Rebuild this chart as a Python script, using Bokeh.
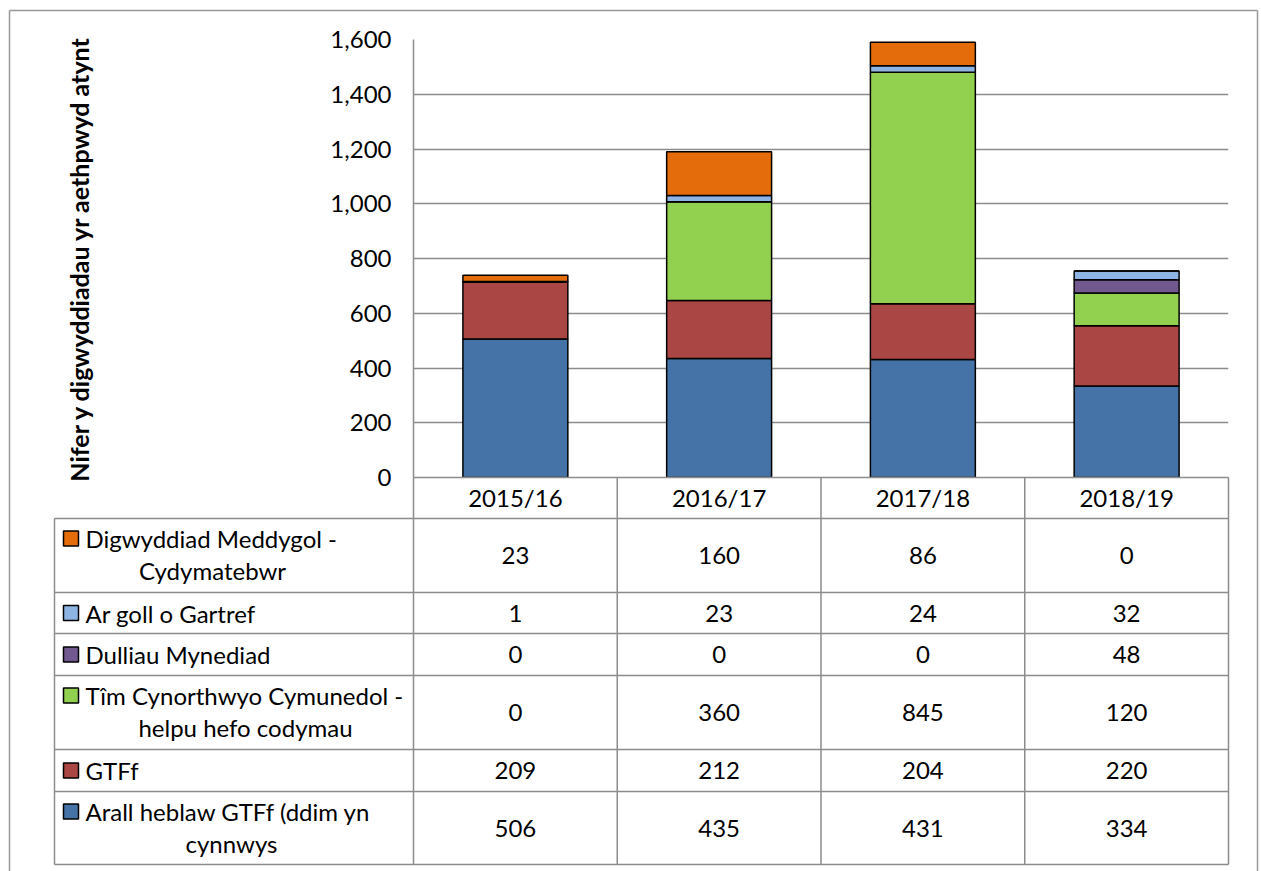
from bokeh.plotting import figure
from bokeh.models import Range1d, FactorRange, FixedTicker, NumeralTickFormatter, ColumnDataSource
from bokeh.core.properties import value
from bokeh.embed import file_html
from bokeh.resources import INLINE

# ---------------- data ----------------
years = ["2015/16", "2016/17", "2017/18", "2018/19"]
arall = [506, 435, 431, 334]
gtff = [209, 212, 204, 220]
tim = [0, 360, 845, 120]
dulliau = [0, 0, 0, 48]
argoll = [1, 23, 24, 32]
digwyddiad = [23, 160, 86, 0]

y_ticks = [0, 200, 400, 600, 800, 1000, 1200, 1400, 1600]
y_title = "Nifer y digwyddiadau yr aethpwyd atynt"

# stacking order (bottom to top)
stack_keys = ["arall", "gtff", "tim", "dulliau", "argoll", "digwyddiad"]
stack_vals = [arall, gtff, tim, dulliau, argoll, digwyddiad]
colors = ["#4572A7", "#AA4643", "#92D050", "#71588F", "#8EB4E3", "#E46C0A"]

# table rows (top to bottom)
row_keys = ["digwyddiad", "argoll", "dulliau", "tim", "gtff", "arall"]
row_labels = [
    ["Digwyddiad Meddygol -", "Cydymatebwr"],
    ["Ar goll o Gartref"],
    ["Dulliau Mynediad"],
    ["Tîm Cynorthwyo Cymunedol -", "helpu hefo codymau"],
    ["GTFf"],
    ["Arall heblaw GTFf (ddim yn", "cynnwys"],
]

# ---------------- layout (page pixels) ----------------
W, H = 1261, 871
FRAME_L = 413.0
CAT_W = 203.75
FRAME_T = 39
FRAME_H = 438
Y0 = FRAME_T + FRAME_H
K = 1600.0 / FRAME_H


def xd(wx):
    return (wx - FRAME_L) / CAT_W


def yd(wy):
    return (Y0 - wy) * K


FONT = "Lato"
GRID = "#8c8c8c"
FS = "24px"

p = figure(width=W, height=H, output_backend="svg", toolbar_location=None,
           x_range=FactorRange(*years), y_range=Range1d(0, 1600),
           min_border_left=int(FRAME_L), min_border_right=int(W - FRAME_L - 4 * CAT_W),
           min_border_top=FRAME_T, min_border_bottom=H - FRAME_T - FRAME_H)
p.outline_line_color = None
p.background_fill_color = "white"
p.border_fill_color = "white"

src = ColumnDataSource(dict(years=years, **{k: v for k, v in zip(stack_keys, stack_vals)}))
p.vbar_stack(stack_keys, x="years", width=0.515, source=src, fill_color=colors,
             line_color="black", line_width=1.5)

# y axis
p.yaxis.ticker = FixedTicker(ticks=y_ticks)
p.yaxis.formatter = NumeralTickFormatter(format="0,0")
p.yaxis.major_tick_out = 0
p.yaxis.major_tick_in = 0
p.yaxis.minor_tick_out = 0
p.yaxis.minor_tick_in = 0
p.yaxis.axis_line_color = GRID
p.yaxis.axis_line_width = 1.5
p.yaxis.major_label_text_font = FONT
p.yaxis.major_label_text_font_size = FS
p.yaxis.major_label_text_color = "black"
p.yaxis.major_label_standoff = 22
p.yaxis.axis_label = y_title
p.yaxis.axis_label_text_font = FONT
p.yaxis.axis_label_text_font_style = "bold"
p.yaxis.axis_label_text_font_size = "25px"
p.yaxis.axis_label_text_color = "black"
p.yaxis.axis_label_standoff = 233

# x axis = table header
p.xaxis.major_tick_out = 0
p.xaxis.major_tick_in = 0
p.xaxis.axis_line_color = GRID
p.xaxis.axis_line_width = 1.5
p.xaxis.major_label_text_font = FONT
p.xaxis.major_label_text_font_size = FS
p.xaxis.major_label_text_color = "black"
p.xaxis.major_label_standoff = 5

p.xgrid.grid_line_color = None
p.ygrid.ticker = FixedTicker(ticks=y_ticks)
p.ygrid.grid_line_color = GRID
p.ygrid.grid_line_width = 1.5

# ---------------- data table ----------------
header_h = 41
row_h = [74, 41, 42, 74, 42, 73]
tops = []
t = Y0 + header_h
for h in row_h:
    tops.append(t)
    t += h
bottom = t

LEFT = 54.0
col_x = [FRAME_L + i * CAT_W for i in range(5)]

sx0, sy0, sx1, sy1 = [], [], [], []
for tt in tops + [bottom]:
    sx0.append(xd(LEFT)); sx1.append(xd(col_x[-1])); sy0.append(yd(tt)); sy1.append(yd(tt))
sx0.append(xd(LEFT)); sx1.append(xd(LEFT)); sy0.append(yd(tops[0])); sy1.append(yd(bottom))
for cx in col_x:
    sx0.append(xd(cx)); sx1.append(xd(cx)); sy0.append(yd(Y0)); sy1.append(yd(bottom))
p.segment(sx0, sy0, sx1, sy1, line_color=GRID, line_width=1.5, level="overlay")

# outer chart border (bottom edge lies below the page)
p.segment([xd(9), xd(9), xd(1257)], [yd(10), yd(10), yd(10)],
          [xd(9), xd(1257), xd(1257)], [yd(900), yd(10), yd(900)],
          line_color="#999999", line_width=1.5, level="overlay")

# numbers
nx, ny, nt = [], [], []
for r, key in enumerate(row_keys):
    vals = stack_vals[stack_keys.index(key)]
    cy = tops[r] + row_h[r] / 2.0
    for i, v in enumerate(vals):
        nx.append(i + 0.5); ny.append(yd(cy)); nt.append(str(v))
p.text(nx, ny, nt, text_font=value(FONT), text_font_size=value(FS),
       text_align="center", text_baseline="middle", text_color="black", level="overlay")

# labels + swatches
second_centers = {0: 212, 3: 245, 5: 231}
lx, ly, lt = [], [], []
cx2, cy2, ct2 = [], [], []
swx, swy, swc = [], [], []
for r, key in enumerate(row_keys):
    lines = row_labels[r]
    if len(lines) == 1:
        fy = tops[r] + row_h[r] / 2.0
    else:
        fy = tops[r] + 20
        cx2.append(xd(second_centers[r])); cy2.append(yd(tops[r] + 52)); ct2.append(lines[1])
    lx.append(xd(85)); ly.append(yd(fy)); lt.append(lines[0])
    swx.append(xd(70.5)); swy.append(yd(fy)); swc.append(colors[stack_keys.index(key)])

p.text(lx, ly, lt, text_font=value(FONT), text_font_size=value(FS),
       text_align="left", text_baseline="middle", text_color="black", level="overlay")
p.text(cx2, cy2, ct2, text_font=value(FONT), text_font_size=value(FS),
       text_align="center", text_baseline="middle", text_color="black", level="overlay")
p.rect(swx, swy, width=15, height=15, width_units="screen", height_units="screen",
       fill_color=swc, line_color="black", line_width=1.5, level="overlay")

open("out.html", "w").write(file_html(p, INLINE))
